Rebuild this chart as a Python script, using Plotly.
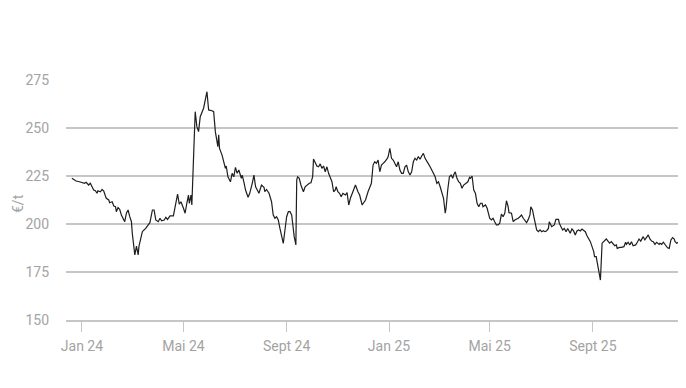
import plotly.graph_objects as go

dates = [
    "2023-12-20", "2023-12-25", "2023-12-29",
    "2024-01-02", "2024-01-04", "2024-01-06", "2024-01-09", "2024-01-11", "2024-01-13", "2024-01-15",
    "2024-01-17", "2024-01-19", "2024-01-20", "2024-01-23", "2024-01-25", "2024-01-27", "2024-01-29",
    "2024-01-30", "2024-02-02", "2024-02-03", "2024-02-06", "2024-02-08", "2024-02-10", "2024-02-11",
    "2024-02-13", "2024-02-15", "2024-02-17", "2024-02-19", "2024-02-21", "2024-02-23", "2024-02-25",
    "2024-02-27", "2024-02-29", "2024-03-01", "2024-03-03", "2024-03-04", "2024-03-06", "2024-03-08",
    "2024-03-09", "2024-03-11", "2024-03-13", "2024-03-15", "2024-03-17", "2024-03-20", "2024-03-22",
    "2024-03-25", "2024-03-27", "2024-03-29", "2024-04-01", "2024-04-03", "2024-04-05", "2024-04-08",
    "2024-04-10", "2024-04-12", "2024-04-15", "2024-04-19", "2024-04-21", "2024-04-24", "2024-04-26",
    "2024-04-28", "2024-05-01", "2024-05-03", "2024-05-05", "2024-05-07", "2024-05-08", "2024-05-10",
    "2024-05-11", "2024-05-12", "2024-05-15", "2024-05-17", "2024-05-19", "2024-05-21", "2024-05-23",
    "2024-05-25", "2024-05-29", "2024-05-31", "2024-06-04", "2024-06-06", "2024-06-08", "2024-06-10",
    "2024-06-11", "2024-06-12", "2024-06-13", "2024-06-16", "2024-06-18", "2024-06-20", "2024-06-21",
    "2024-06-23", "2024-06-26", "2024-06-28", "2024-06-30", "2024-07-02", "2024-07-04", "2024-07-06",
    "2024-07-09", "2024-07-10", "2024-07-12", "2024-07-14", "2024-07-17", "2024-07-19", "2024-07-22",
    "2024-07-24", "2024-07-26", "2024-07-29", "2024-07-30", "2024-08-02", "2024-08-05", "2024-08-06",
    "2024-08-08", "2024-08-11", "2024-08-14", "2024-08-16", "2024-08-18", "2024-08-20", "2024-08-22",
    "2024-08-24", "2024-08-26", "2024-08-28", "2024-08-30", "2024-09-01", "2024-09-03", "2024-09-05",
    "2024-09-07", "2024-09-09", "2024-09-10", "2024-09-12", "2024-09-13", "2024-09-14", "2024-09-16",
    "2024-09-18", "2024-09-21", "2024-09-23", "2024-09-25", "2024-09-28", "2024-09-30", "2024-10-02",
    "2024-10-03", "2024-10-05", "2024-10-07", "2024-10-09", "2024-10-11", "2024-10-13", "2024-10-15",
    "2024-10-17", "2024-10-19", "2024-10-21", "2024-10-23", "2024-10-25", "2024-10-27", "2024-10-29",
    "2024-10-30", "2024-11-01", "2024-11-03", "2024-11-05", "2024-11-07", "2024-11-10", "2024-11-12",
    "2024-11-14", "2024-11-16", "2024-11-18", "2024-11-19", "2024-11-22", "2024-11-25", "2024-11-27",
    "2024-11-30", "2024-12-02", "2024-12-04", "2024-12-07", "2024-12-09", "2024-12-11", "2024-12-13",
    "2024-12-15", "2024-12-17", "2024-12-19", "2024-12-21", "2024-12-23", "2024-12-25", "2024-12-27",
    "2024-12-30", "2024-12-31",
    "2025-01-02", "2025-01-04", "2025-01-06", "2025-01-08", "2025-01-10", "2025-01-12", "2025-01-14",
    "2025-01-16", "2025-01-18", "2025-01-20", "2025-01-22", "2025-01-24", "2025-01-26", "2025-01-28",
    "2025-01-30", "2025-02-01", "2025-02-03", "2025-02-05", "2025-02-07", "2025-02-09", "2025-02-11",
    "2025-02-13", "2025-02-15", "2025-02-17", "2025-02-19", "2025-02-21", "2025-02-23", "2025-02-25",
    "2025-02-27", "2025-03-01", "2025-03-03", "2025-03-05", "2025-03-07", "2025-03-09", "2025-03-10",
    "2025-03-12", "2025-03-14", "2025-03-16", "2025-03-18", "2025-03-19", "2025-03-21", "2025-03-23",
    "2025-03-25", "2025-03-27", "2025-03-29", "2025-03-31", "2025-04-03", "2025-04-05", "2025-04-07",
    "2025-04-08", "2025-04-10", "2025-04-12", "2025-04-14", "2025-04-16", "2025-04-18", "2025-04-20",
    "2025-04-22", "2025-04-23", "2025-04-26", "2025-04-28", "2025-04-29", "2025-05-01", "2025-05-03",
    "2025-05-05", "2025-05-07", "2025-05-09", "2025-05-11", "2025-05-13", "2025-05-15", "2025-05-17",
    "2025-05-19", "2025-05-21", "2025-05-23", "2025-05-24", "2025-05-27", "2025-05-29", "2025-05-31",
    "2025-06-02", "2025-06-04", "2025-06-06", "2025-06-08", "2025-06-10", "2025-06-12", "2025-06-14",
    "2025-06-16", "2025-06-18", "2025-06-19", "2025-06-21", "2025-06-23", "2025-06-24", "2025-06-26",
    "2025-06-28", "2025-06-30", "2025-07-02", "2025-07-04", "2025-07-06", "2025-07-08", "2025-07-10",
    "2025-07-11", "2025-07-13", "2025-07-14", "2025-07-17", "2025-07-19", "2025-07-22", "2025-07-23",
    "2025-07-25", "2025-07-27", "2025-07-29", "2025-07-31", "2025-08-02", "2025-08-05", "2025-08-07",
    "2025-08-09", "2025-08-11", "2025-08-13", "2025-08-15", "2025-08-17", "2025-08-19", "2025-08-21",
    "2025-08-23", "2025-08-25", "2025-08-27", "2025-08-29", "2025-08-31", "2025-09-02", "2025-09-03",
    "2025-09-05", "2025-09-06", "2025-09-08", "2025-09-10", "2025-09-12", "2025-09-14", "2025-09-17",
    "2025-09-19", "2025-09-21", "2025-09-23", "2025-09-25", "2025-09-27", "2025-09-29", "2025-09-30",
    "2025-10-03", "2025-10-05", "2025-10-08", "2025-10-10", "2025-10-11", "2025-10-13", "2025-10-15",
    "2025-10-17", "2025-10-19", "2025-10-22", "2025-10-24", "2025-10-26", "2025-10-28", "2025-10-30",
    "2025-10-31", "2025-11-02", "2025-11-04", "2025-11-06", "2025-11-08", "2025-11-10", "2025-11-12",
    "2025-11-14", "2025-11-16", "2025-11-19", "2025-11-20", "2025-11-22", "2025-11-24", "2025-11-26",
    "2025-11-29", "2025-12-01", "2025-12-03", "2025-12-05", "2025-12-07", "2025-12-08", "2025-12-10",
    "2025-12-12", "2025-12-13",
]

prices = [
    223.8, 222.4, 222.0,
    221.5, 221.2, 221.7, 220.3, 221.2, 219.1, 217.7,
    217.3, 216.0, 217.3, 216.8, 218.0, 217.2, 214.6,
    213.4, 212.5, 211.1, 211.6, 209.4, 209.0, 206.4,
    208.5, 207.6, 204.7, 203.0, 201.2, 205.6, 207.3,
    203.8, 201.2, 195.2, 186.5, 183.9, 188.5, 183.9,
    188.5, 192.5, 196.0, 196.9, 197.7, 199.5, 200.7,
    207.3, 207.3, 202.1, 201.2, 203.0, 201.7, 202.1,
    203.5, 202.4, 204.2, 204.2, 209.0, 215.6, 210.4,
    211.6, 208.2, 205.6, 210.8, 215.1, 210.8, 215.1,
    209.9, 222.9, 258.5, 250.7, 248.1, 255.9, 258.5,
    260.3, 268.9, 259.4, 259.0, 258.5, 248.1, 242.9,
    240.3, 246.4, 239.4, 235.9, 231.6, 229.0, 230.2,
    224.6, 222.0, 226.4, 224.6, 229.5, 226.4, 228.1,
    223.8, 225.5, 222.0, 217.7, 213.9, 216.0, 221.2,
    225.5, 219.4, 216.5, 216.0, 220.3, 219.1, 216.8,
    218.0, 216.0, 211.6, 204.7, 203.0, 203.8, 202.1,
    197.7, 194.3, 189.9, 196.9, 203.8, 206.4, 206.4,
    204.7, 196.9, 193.4, 189.1, 222.9, 224.6, 223.8,
    220.3, 216.8, 219.4, 220.3, 221.2, 221.5, 224.6,
    233.9, 231.6, 230.2, 229.8, 231.3, 229.0, 230.2,
    227.2, 229.8, 226.4, 224.6, 222.0, 216.8, 217.7,
    219.4, 216.8, 216.0, 214.2, 216.0, 215.1, 216.3,
    209.9, 213.4, 216.0, 216.8, 220.3, 216.8, 215.1,
    209.9, 211.6, 212.5, 216.8, 218.6, 221.2, 230.7,
    232.4, 231.6, 233.3, 227.2, 230.7, 231.6, 232.4,
    234.2, 235.1,
    239.4, 234.2, 233.3, 231.6, 229.8, 232.4, 228.1,
    226.4, 226.4, 229.8, 230.7, 227.2, 225.5, 227.2,
    232.4, 234.2, 233.3, 235.1, 233.7, 235.4, 236.8,
    234.2, 232.4, 231.3, 229.8, 228.1, 226.4, 224.6,
    221.2, 222.0, 219.4, 216.8, 213.4, 205.6, 208.2,
    217.7, 224.6, 225.5, 223.8, 225.5, 227.2, 223.8,
    222.0, 221.2, 218.6, 220.3, 221.2, 222.0, 224.3,
    223.8, 225.0, 217.7, 216.0, 210.8, 209.0, 210.8,
    210.8, 209.0, 209.9, 208.2, 206.4, 203.0, 202.1,
    203.0, 201.2, 199.5, 199.5, 200.4, 205.2, 203.8,
    205.6, 212.1, 209.0, 205.9, 205.6, 201.2, 202.1,
    202.4, 203.0, 203.8, 204.7, 203.0, 202.1, 200.7,
    202.4, 204.7, 209.0, 207.3, 203.0, 200.4, 196.9,
    196.0, 196.9, 196.0, 196.5, 196.0, 196.5, 197.7,
    201.2, 199.5, 198.6, 199.5, 202.4, 202.4, 200.4,
    198.6, 196.9, 197.7, 196.0, 197.7, 195.2, 197.4,
    196.4, 194.3, 196.4, 196.9, 196.4, 197.4, 196.9,
    196.0, 193.9, 192.5, 190.8, 188.2, 185.6, 183.0,
    183.0, 180.4, 176.0, 170.8, 190.0, 191.1, 192.2,
    191.1, 190.0, 190.8, 190.0, 188.7, 189.1, 187.3,
    187.8, 187.8, 188.2, 190.5, 189.4, 190.5, 189.1,
    190.8, 188.7, 189.1, 190.5, 192.2, 191.1, 192.5,
    193.4, 191.7, 192.9, 194.3, 192.2, 191.1, 190.8,
    189.4, 190.5, 189.4, 190.0, 189.4, 190.5, 189.1,
    187.6, 187.3, 191.7, 192.9, 192.2, 190.8, 190.0,
    190.5, 189.1,
]

tick_dates = ["2024-01-01", "2024-05-01", "2024-09-01", "2025-01-01", "2025-05-01", "2025-09-01"]
tick_labels = ["Jan 24", "Mai 24", "Sept 24", "Jan 25", "Mai 25", "Sept 25"]
y_ticks = [150, 175, 200, 225, 250, 275]
y_title = "€/t"

grey_txt = "#a3a3a3"
grid_col = "#c6c6c6"
font_fam = "Roboto, 'Open Sans', sans-serif"

fig = go.Figure()
fig.add_trace(go.Scatter(
    x=dates, y=prices, mode="lines",
    line=dict(color="#1e1e1e", width=1.2),
    hoverinfo="skip", showlegend=False,
))

# page body adds an 8px offset, so the figure is sized to fill the remaining window
fig.update_layout(
    width=678, height=380,
    margin=dict(l=58, r=0, t=72, b=68),
    paper_bgcolor="white", plot_bgcolor="white",
    font=dict(family=font_fam, size=14, color=grey_txt),
    showlegend=False,
)
fig.update_xaxes(
    type="date",
    range=["2023-12-13", "2025-12-21"],
    tickvals=tick_dates, ticktext=tick_labels,
    showgrid=False, zeroline=False,
    showline=True, linecolor=grid_col, linewidth=1.5,
    ticks="outside", ticklen=10, tickwidth=1, tickcolor=grid_col,
    tickfont=dict(size=14, color=grey_txt),
    ticklabelstandoff=2,
    automargin=False,
)
fig.update_yaxes(
    range=[150, 275],
    tickvals=y_ticks,
    showgrid=True, gridcolor=grid_col, gridwidth=1.5,
    zeroline=False, showline=False, ticks="",
    tickfont=dict(size=14, color=grey_txt),
    ticklabelstandoff=16,
    automargin=False,
)
fig.add_annotation(
    text=y_title, textangle=-90,
    xref="paper", yref="paper", x=0, y=0.5,
    xanchor="center", yanchor="middle", xshift=-48, yshift=-4,
    showarrow=False, font=dict(size=14, color=grey_txt),
)

fig.write_html("out.html")
